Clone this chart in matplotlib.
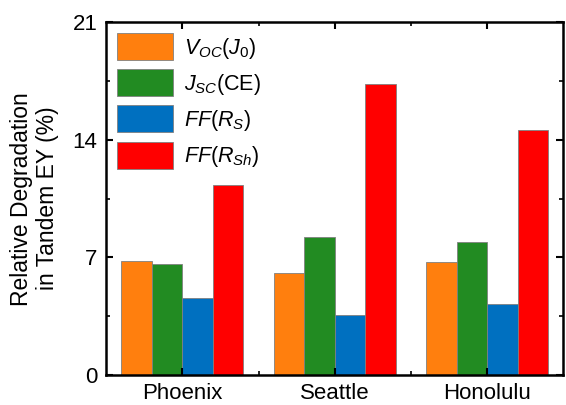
import numpy as np
import matplotlib.pyplot as plt
from matplotlib.ticker import MultipleLocator

plt.rcParams['font.family'] = ['Liberation Sans', 'DejaVu Sans']
plt.rcParams['mathtext.fontset'] = 'custom'
plt.rcParams['mathtext.rm'] = 'Liberation Sans'
plt.rcParams['mathtext.it'] = 'Liberation Sans:italic'

cities = ['Phoenix', 'Seattle', 'Honolulu']
labels = [r'$V_{OC}$$(J_0)$', r'$J_{SC}$(CE)', r'$FF(R_S)$', r'$FF(R_{Sh})$']
voc = [6.8, 6.1, 6.7]
jsc = [6.6, 8.2, 7.9]
ff_rs = [4.6, 3.6, 4.2]
ff_rsh = [11.3, 17.3, 14.6]
colors = ['#FF7F0E', '#228B22', '#0070C0', '#FF0000']

series = [voc, jsc, ff_rs, ff_rsh]

fig = plt.figure(figsize=(5.66, 4.05), dpi=100)
ax = fig.add_axes([0.187, 0.074, 0.807, 0.871])

x = np.arange(len(cities))
w = 0.2
for i, vals in enumerate(series):
    ax.bar(x + (i - 1.5) * w, vals, w, color=colors[i], edgecolor='#808080',
           linewidth=0.6, label=labels[i])

ax.set_xlim(-0.502, 2.494)
ax.set_ylim(0, 21)
ax.yaxis.set_major_locator(MultipleLocator(7))
ax.yaxis.set_minor_locator(MultipleLocator(3.5))
ax.set_xticks(x)
ax.set_xticks([0.5, 1.5], minor=True)
ax.set_xticklabels(cities)
ax.tick_params(which='both', direction='in', top=True, right=True, labelsize=16)
ax.tick_params(which='major', length=5, width=1.5, pad=6)
ax.tick_params(which='minor', length=3, width=1.2)
for s in ax.spines.values():
    s.set_linewidth(1.8)

ax.set_ylabel('Relative Degradation\nin Tandem EY (%)', fontsize=16.5,
              linespacing=1.15, labelpad=10)

ax.legend(loc='upper left', frameon=False, fontsize=15.5, handlelength=2.6,
          handleheight=1.55, handletextpad=0.55, labelspacing=0.4,
          borderaxespad=0.1, bbox_to_anchor=(0.0, 1.0))

fig.savefig('out.png', dpi=100)
